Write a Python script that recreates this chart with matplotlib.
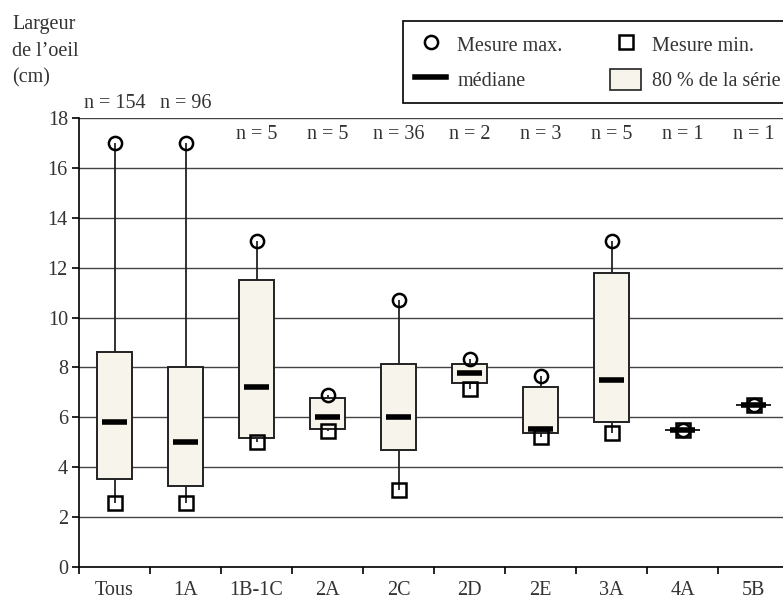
import matplotlib
matplotlib.use("Agg")
import matplotlib.pyplot as plt
from matplotlib.lines import Line2D
from matplotlib.patches import Patch

plt.rcParams['font.family'] = ['Liberation Serif', 'DejaVu Serif']

# data (cm)
groups = ["Tous", "1A", "1B-1C", "2A", "2C", "2D", "2E", "3A", "4A", "5B"]
n_obs = [154, 96, 5, 5, 36, 2, 3, 5, 1, 1]
v_max = [17.0, 17.0, 13.05, 6.9, 10.7, 8.35, 7.65, 13.05, 5.5, 6.5]
q90 = [8.6, 8.0, 11.5, 6.77, 8.15, 8.15, 7.2, 11.8, 5.5, 6.5]
med = [5.8, 5.0, 7.2, 6.0, 6.0, 7.77, 5.52, 7.5, 5.5, 6.5]
q10 = [3.53, 3.25, 5.18, 5.53, 4.7, 7.39, 5.36, 5.8, 5.5, 6.5]
v_min = [2.55, 2.55, 5.0, 5.47, 3.08, 7.15, 5.2, 5.36, 5.5, 6.5]

txt = "#333333"
box_fc = "#F7F4EC"
edge = "#222222"
fs = 14.5

fig = plt.figure(figsize=(7.83, 6.05), dpi=100)
ax = fig.add_axes([79/783, 38/605, 710/783, 449/605])

x = list(range(len(groups)))
ax.set_axisbelow(True)
ax.yaxis.grid(True, color="#444444", lw=1)

heights = [t - b for t, b in zip(q90, q10)]
ax.vlines(x, q90, v_max, color=edge, lw=1.3, zorder=2)
ax.vlines(x, v_min, q10, color=edge, lw=1.3, zorder=2)
ax.bar(x, heights, bottom=q10, width=0.5, color=box_fc, edgecolor=edge, lw=1.4, zorder=3)
ax.hlines(med, [i - 0.17 for i in x], [i + 0.17 for i in x], color="black", lw=4, zorder=4)
ax.plot(x, v_max, ls="none", marker="o", ms=9.5, mfc="none", mec="black", mew=1.8, zorder=5)
ax.plot(x, v_min, ls="none", marker="s", ms=9.5, mfc="none", mec="black", mew=1.8, zorder=5)

for i, n in enumerate(n_obs):
    ty = 18.6 if v_max[i] > 15 else 17.35
    ax.text(i, ty, f"n = {n}", ha="center", va="center", fontsize=fs, color=txt, clip_on=False)

ax.set_xlim(-0.5, 9.5)
ax.set_ylim(0, 18)
ax.set_yticks(range(0, 19, 2))
ax.set_xticks([i - 0.5 for i in x] + [9.5])
ax.set_xticklabels([])
ax.set_xticks(x, minor=True)
ax.set_xticklabels(groups, minor=True)
ax.tick_params(axis="x", which="major", direction="out", length=5, width=1.2, color="black")
ax.tick_params(axis="x", which="minor", length=0, pad=10, labelsize=fs, labelcolor=txt)
ax.tick_params(axis="y", direction="out", length=5, width=1.2, pad=3, labelsize=fs, labelcolor=txt)
for s in ("top", "right"):
    ax.spines[s].set_visible(False)
for s in ("left", "bottom"):
    ax.spines[s].set_color("black")
    ax.spines[s].set_linewidth(1.2)

fig.text(12/783, 1 - 15/605, "Largeur\nde l\u2019oeil\n(cm)", ha="left", va="top",
         fontsize=fs, color=txt, linespacing=1.55)

handles = [
    Line2D([], [], ls="none", marker="o", ms=9.5, mfc="none", mec="black", mew=1.8),
    Line2D([], [], color="black", lw=4),
    Line2D([], [], ls="none", marker="s", ms=9.5, mfc="none", mec="black", mew=1.8),
    Patch(facecolor=box_fc, edgecolor=edge, lw=1.2),
]
labels = ["Mesure max.", "m\u00e9diane", "Mesure min.", "80 % de la s\u00e9rie"]
leg = fig.legend(handles, labels, ncol=2, loc="upper left",
                 bbox_to_anchor=(403/783, 1 - 21/605), borderaxespad=0,
                 fontsize=fs, handlelength=1.55, handleheight=1.25, labelspacing=0.65,
                 handletextpad=0.55, columnspacing=2.35, borderpad=0.6,
                 fancybox=False, framealpha=1, edgecolor="black")
leg.get_frame().set_linewidth(1.2)
for t in leg.get_texts():
    t.set_color(txt)

fig.savefig("out.png", dpi=100)
